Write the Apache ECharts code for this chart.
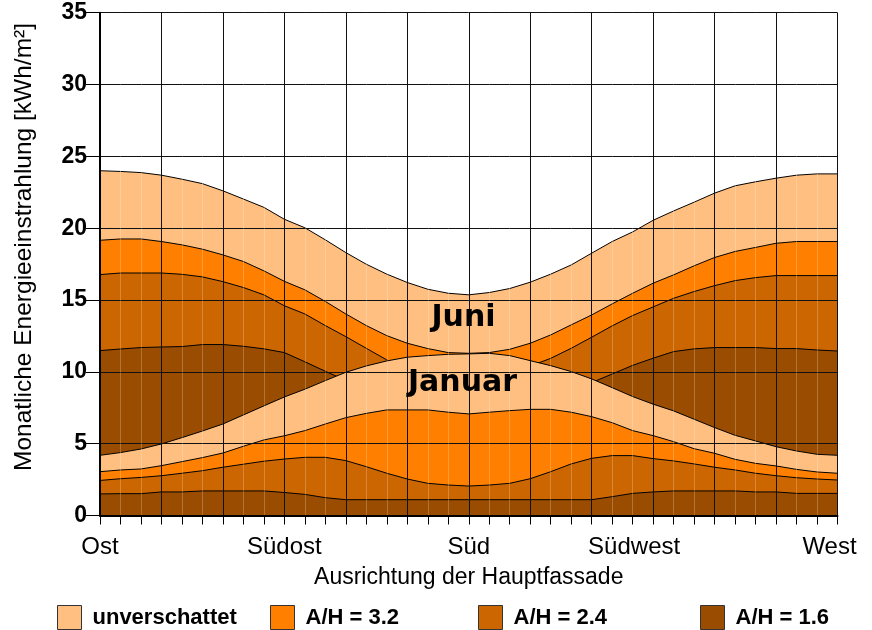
<!DOCTYPE html>
<html>
<head>
<meta charset="utf-8">
<script src="https://cdn.jsdelivr.net/npm/echarts@6/dist/echarts.min.js"></script>
<style>
html,body{margin:0;padding:0;background:#fff;}
#chart{width:872px;height:630px;}
</style>
</head>
<body>
<div id="chart"></div>
<script>
// Orientation in degrees (Ost = 90, Süd = 180, West = 270), 5° steps
const angles = [90,95,100,105,110,115,120,125,130,135,140,145,150,155,160,165,170,175,180,185,190,195,200,205,210,215,220,225,230,235,240,245,250,255,260,265,270];
const xTickAngles = [90,135,180,225,270];
const xTickLabels = ['Ost','Südost','Süd','Südwest','West'];
const categories = ['unverschattet','A/H = 3.2','A/H = 2.4','A/H = 1.6'];

// Juni
const juniUnv = [24.0,23.95,23.87,23.69,23.41,23.1,22.6,22.03,21.45,20.62,20.03,19.19,18.3,17.49,16.8,16.22,15.75,15.47,15.36,15.52,15.8,16.24,16.8,17.44,18.26,19.07,19.74,20.55,21.2,21.81,22.44,22.95,23.23,23.48,23.69,23.78,23.78];
const juni32 = [19.16,19.25,19.25,19.07,18.84,18.54,18.14,17.68,17.03,16.3,15.71,14.9,14.03,13.22,12.52,11.99,11.62,11.34,11.29,11.34,11.57,11.99,12.57,13.27,13.96,14.73,15.47,16.17,16.75,17.38,17.96,18.38,18.66,18.95,19.07,19.07,19.07];
const juni24 = [16.77,16.88,16.88,16.88,16.79,16.61,16.28,15.87,15.36,14.6,14.03,13.22,12.45,11.64,10.83,10.1,9.5,9.1,9.0,9.1,9.5,10.4,10.94,11.64,12.41,13.2,13.92,14.52,15.12,15.59,16.0,16.35,16.56,16.7,16.7,16.7,16.7];
const juni16 = [11.48,11.59,11.69,11.73,11.76,11.9,11.9,11.78,11.6,11.34,10.7,10.04,9.4,8.9,8.5,8.2,8.0,7.9,7.9,7.9,8.0,8.2,8.5,8.9,9.25,9.85,10.45,10.95,11.41,11.6,11.69,11.69,11.69,11.62,11.62,11.52,11.45];
// Januar
const janUnv = [4.19,4.38,4.63,4.98,5.42,5.88,6.37,7.0,7.63,8.25,8.79,9.39,9.97,10.41,10.76,11.02,11.13,11.22,11.25,11.29,11.13,10.78,10.43,10.02,9.51,8.9,8.28,7.75,7.28,6.7,6.12,5.58,5.19,4.79,4.49,4.26,4.19];
const jan32 = [3.05,3.17,3.24,3.47,3.75,4.03,4.35,4.82,5.26,5.55,5.91,6.37,6.81,7.11,7.35,7.35,7.35,7.19,7.07,7.19,7.3,7.39,7.39,7.19,6.88,6.46,5.91,5.56,5.14,4.65,4.33,3.91,3.63,3.45,3.21,3.03,2.94];
const jan24 = [2.44,2.56,2.65,2.77,2.94,3.12,3.36,3.57,3.78,3.93,4.05,4.05,3.82,3.4,2.94,2.54,2.24,2.12,2.05,2.12,2.24,2.56,3.05,3.59,3.98,4.17,4.17,3.96,3.8,3.59,3.36,3.17,2.94,2.77,2.63,2.54,2.47];
const jan16 = [1.5,1.52,1.52,1.64,1.64,1.71,1.71,1.71,1.71,1.6,1.47,1.24,1.1,1.1,1.1,1.1,1.1,1.1,1.1,1.1,1.1,1.1,1.1,1.1,1.1,1.31,1.54,1.64,1.71,1.71,1.71,1.71,1.64,1.64,1.54,1.54,1.54];

const colors = ['#FFBF80','#FF8000','#CC6600','#9A4D00'];
const FONT = 'Liberation Sans, Arial, Helvetica, sans-serif';

let zc = 2;
function mk(name, values, color) {
  return {
    type: 'line', name: name,
    data: values.map((v, i) => [angles[i], v]),
    showSymbol: false, symbol: 'none',
    lineStyle: { color: '#000', width: 1 },
    itemStyle: { color: color },
    areaStyle: { color: color, opacity: 1 },
    z: zc++, animation: false, silent: true
  };
}

const series = [
  mk(categories[0], juniUnv, colors[0]),
  mk(categories[1], juni32, colors[1]),
  mk(categories[2], juni24, colors[2]),
  mk(categories[3], juni16, colors[3]),
  mk(categories[0], janUnv, colors[0]),
  mk(categories[1], jan32, colors[1]),
  mk(categories[2], jan24, colors[2]),
  mk(categories[3], jan16, colors[3])
];

const legendLeft = [52, 265, 473, 695];
const legends = categories.map((c, i) => ({
  data: [c], left: legendLeft[i], top: 600,
  icon: 'rect', itemWidth: 24, itemHeight: 24,
  itemStyle: { borderColor: '#333', borderWidth: 1 },
  textStyle: { fontFamily: FONT, fontSize: 22, fontWeight: 'bold', color: '#000', padding: [0,0,0,6] },
  selectedMode: false
}));

const labelShift = { 'Südwest': 38, 'West': 16 };

const chart = echarts.init(document.getElementById('chart'), null, { renderer: 'canvas' });
chart.setOption({
  animation: false,
  backgroundColor: '#fff',
  grid: { left: 100, right: 34.5, top: 12.7, bottom: 114.5, containLabel: false },
  legend: legends,
  xAxis: {
    type: 'value', min: 90, max: 270, interval: 15, z: 30,
    axisLine: { show: true, lineStyle: { color: '#000', width: 2 } },
    axisTick: { show: true, length: 9, lineStyle: { color: '#000', width: 1 } },
    minorTick: { show: true, splitNumber: 3, length: 9, lineStyle: { color: '#000', width: 1 } },
    splitLine: { show: true, lineStyle: { color: '#111', width: 1 } },
    minorSplitLine: { show: true, lineStyle: { color: 'rgba(255,255,255,0.22)', width: 1 } },
    axisLabel: {
      fontFamily: FONT, fontSize: 24, color: '#000', margin: 20, showMinLabel: true, showMaxLabel: true,
      formatter: v => {
        const k = xTickAngles.indexOf(v);
        if (k < 0) return '';
        const t = xTickLabels[k];
        if (labelShift[t]) return '{s' + labelShift[t] + '|' + t + '}';
        return t;
      },
      rich: {
        s38: { fontFamily: FONT, fontSize: 24, color: '#000', padding: [0, 38, 0, 0] },
        s16: { fontFamily: FONT, fontSize: 24, color: '#000', padding: [0, 16, 0, 0] }
      }
    },
    name: 'Ausrichtung der Hauptfassade', nameLocation: 'middle', nameGap: 51,
    nameTextStyle: { fontFamily: FONT, fontSize: 23, color: '#000' }
  },
  yAxis: {
    type: 'value', min: 0, max: 35, interval: 5, z: 30,
    axisLine: { show: true, lineStyle: { color: '#000', width: 2 } },
    axisTick: { show: true, length: 14, lineStyle: { color: '#000', width: 1 } },
    splitLine: { show: true, lineStyle: { color: '#111', width: 1 } },
    axisLabel: { fontFamily: FONT, fontSize: 23, fontWeight: 'bold', color: '#000', margin: 13 }
  },
  graphic: [
    { type: 'text', x: 24, y: 247, rotation: Math.PI / 2, z: 100,
      style: { text: 'Monatliche Energieeinstrahlung [kWh/m²]', font: '24.5px ' + FONT, fill: '#000', textAlign: 'center', textVerticalAlign: 'middle' } },
    { type: 'text', x: 463.5, y: 318.5, z: 100,
      style: { text: 'Juni', font: 'bold 30px "DejaVu Sans", ' + FONT, fill: '#000', textAlign: 'center', textVerticalAlign: 'middle' } },
    { type: 'text', x: 462.5, y: 383, z: 100,
      style: { text: 'Januar', font: 'bold 30px "DejaVu Sans", ' + FONT, fill: '#000', textAlign: 'center', textVerticalAlign: 'middle' } }
  ],
  series: series
});
</script>
</body>
</html>
